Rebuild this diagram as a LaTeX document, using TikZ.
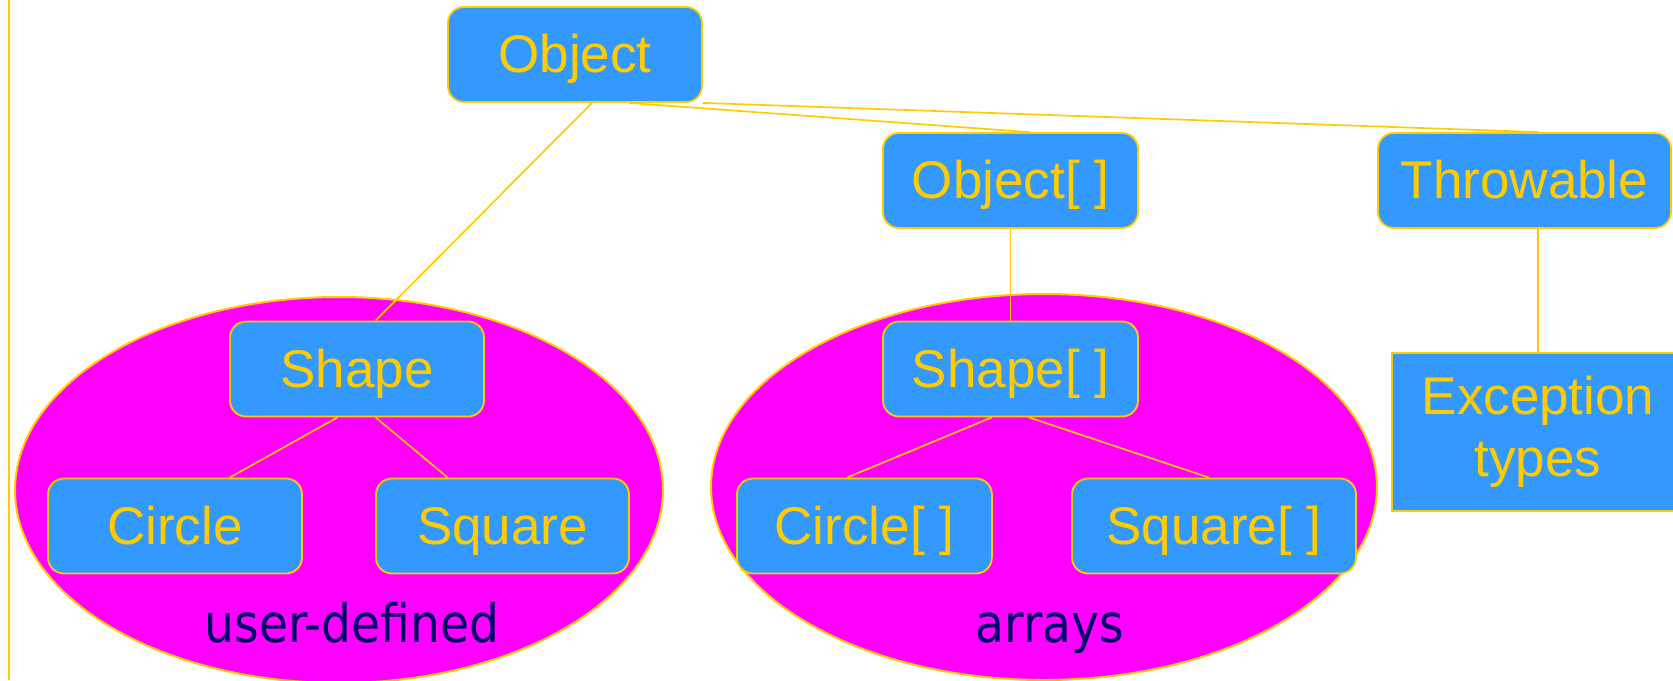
\documentclass[tikz,border=0pt]{standalone}
\usepackage{fontspec}
\setmainfont{Liberation Sans}
\newfontfamily\labelfont[FakeStretch=0.89]{DejaVu Sans}
\definecolor{boxblue}{HTML}{3399FF}
\definecolor{gold}{HTML}{FFCC00}
\definecolor{mag}{HTML}{FF00FF}
\definecolor{navy}{HTML}{000066}
\tikzset{
  cls/.style={draw=gold, line width=0.9pt, fill=boxblue, text=gold, rounded corners=8pt,
    inner sep=0pt, text height=32.75pt, text depth=14.75pt, minimum height=47.5pt,
    font=\fontsize{26.5}{31}\selectfont},
  sqbox/.style={draw=gold, line width=0.9pt, fill=boxblue, text=gold, inner sep=0pt,
    align=center, font=\fontsize{26.5}{31}\selectfont},
  link/.style={draw=gold, line width=0.85pt},
  group/.style={draw=gold, line width=1pt, fill=mag},
  grouplabel/.style={text=navy, anchor=base, inner sep=0pt, font=\labelfont\fontsize{26.5}{31}\selectfont}
}
\begin{document}
\begin{tikzpicture}[x=0.5pt, y=-0.5pt]
\useasboundingbox (0,0) rectangle (1673,680);
% left margin line
\coordinate (lt) at (9,0);
\coordinate (lb) at (9,680);
\draw[link] (lt) -- (lb);
% groups
\path[group] (339,490) ellipse [x radius=324, y radius=193];
\path[group] (1044,487) ellipse [x radius=333, y radius=193];
% nodes
\node[cls, minimum width=127pt] (obj) at (575,54.5) {Object};
\node[cls, minimum width=127.5pt] (objarr) at (1010.5,180.5) {Object[ ]};
\node[cls, minimum width=146.5pt] (thr) at (1524.5,180.5) {Throwable};
\node[cls, minimum width=127pt] (shape) at (357,369) {Shape};
\node[cls, minimum width=127pt] (circle) at (175,526) {Circle};
\node[cls, minimum width=126.5pt] (square) at (502.5,526) {Square};
\node[cls, minimum width=127.5pt] (shapearr) at (1010.5,369) {Shape[ ]};
\node[cls, minimum width=127.5pt] (circlearr) at (864.4,526) {Circle[ ]};
\node[cls, minimum width=142pt] (squarearr) at (1214,526) {Square[ ]};
\node[sqbox, minimum width=146pt, minimum height=79pt] (exc) at (1538,432) {Exception\\types};
% connectors
\draw[link] ([xshift=8.5pt]obj.south) -- ([xshift=9.3pt]shape.north);
\draw[link] ([xshift=27pt]obj.south) -- ([xshift=9.25pt]objarr.north);
\draw[link] (obj.south east) -- ([xshift=6.75pt]thr.north);
\draw[link] (objarr.south) -- (shapearr.north);
\draw[link] ([xshift=6.75pt]thr.south) -- (exc.north);
\draw[link] ([xshift=-9.75pt]shape.south) -- ([xshift=27.3pt]circle.north);
\draw[link] ([xshift=9.3pt]shape.south) -- ([xshift=-27.4pt]square.north);
\draw[link] ([xshift=-9.4pt]shapearr.south) -- ([xshift=-8.7pt]circlearr.north);
\draw[link] ([xshift=9.25pt]shapearr.south) -- ([xshift=-2.5pt]squarearr.north);
% group labels
\node[grouplabel] (udl) at (352,642) {user-defined};
\node[grouplabel] (arl) at (1050,642) {arrays};
\end{tikzpicture}
\end{document}
